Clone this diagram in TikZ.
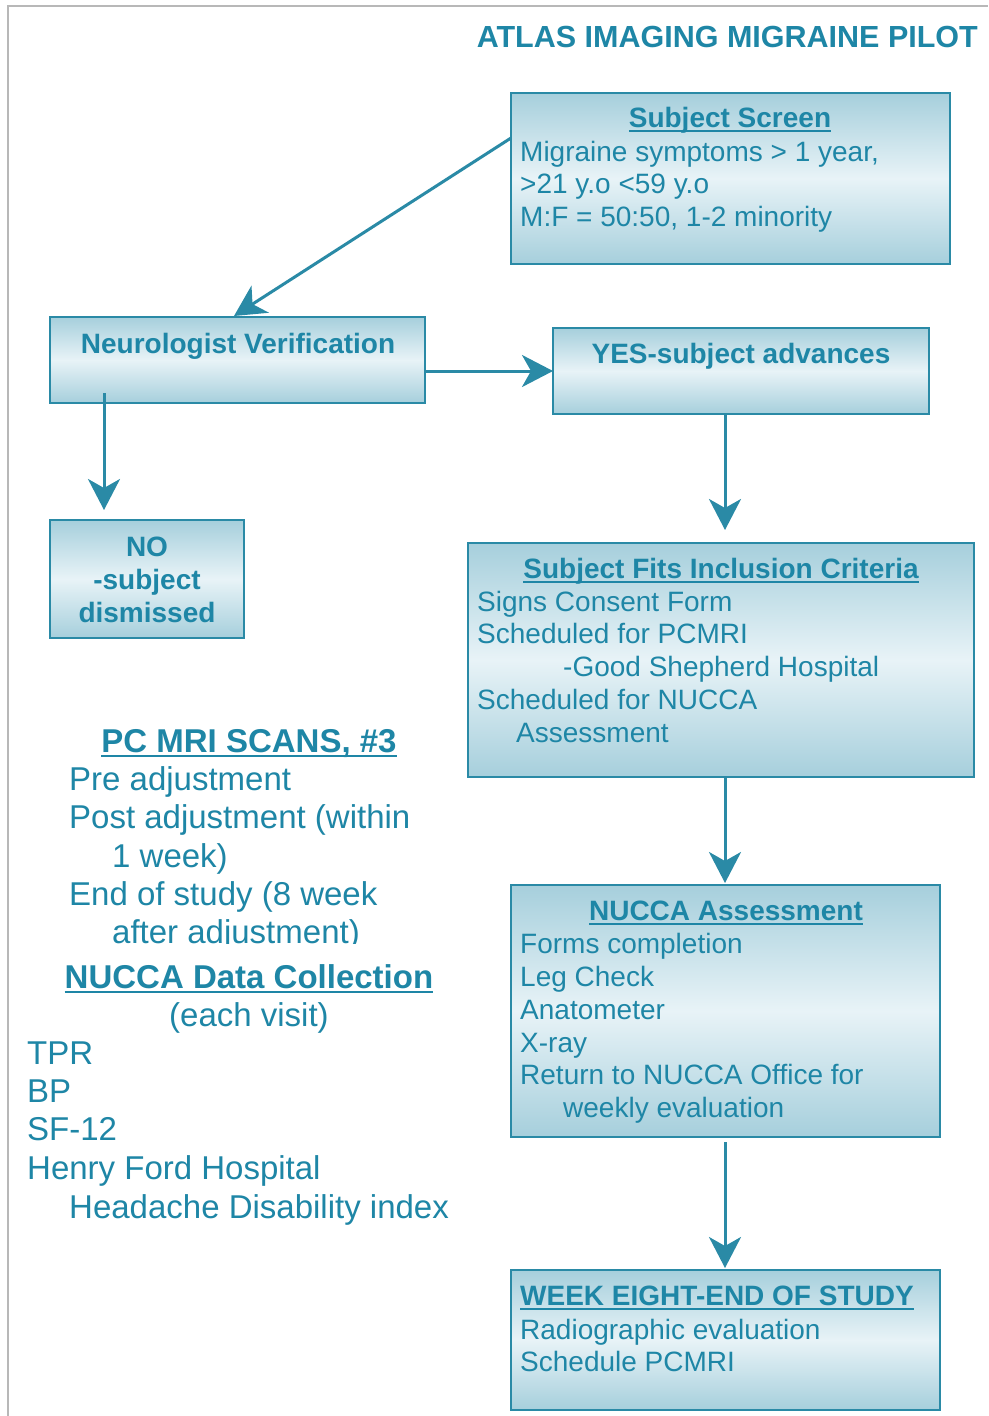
\documentclass[tikz,border=0pt]{standalone}
\usepackage{fontspec}
\setmainfont{Liberation Sans}
\usetikzlibrary{arrows.meta,calc}
\definecolor{tc}{HTML}{1E86A6}
\definecolor{bc}{HTML}{2A8AA6}
\definecolor{shd}{HTML}{A6CFDC}
\definecolor{shl}{HTML}{E8F3F7}
\definecolor{frm}{HTML}{B8B8B8}
\newcommand{\myul}[1]{\setbox0=\hbox{#1}\rlap{\rule[-5pt]{\wd0}{2.5pt}}\box0}
\begin{document}
\begin{tikzpicture}[x=1pt,y=-1pt,
  box/.style={draw=bc, line width=2pt, top color=shd, bottom color=shd, middle color=shl,
    anchor=north west, inner sep=0pt, outer sep=0pt},
  bt/.style={font=\fontsize{28}{33}\selectfont, text=tc, inner sep=0pt, anchor=base west},
  bb/.style={font=\fontsize{28}{33}\selectfont\bfseries, text=tc, inner sep=0pt, anchor=base},
  lt/.style={font=\fontsize{33}{38}\selectfont, text=tc, inner sep=0pt, anchor=base west},
  lb/.style={font=\fontsize{33}{38}\selectfont\bfseries, text=tc, inner sep=0pt, anchor=base},
  arr/.style={draw=bc, line width=3pt, -{Stealth[length=31pt, width=32pt, inset=9pt]}}
]
\useasboundingbox (0,0) rectangle (988,1416);
\fill[white] (0,0) rectangle (988,1416);
\draw[frm, line width=2pt] (8,1416) -- (8,6) -- (988,6);

% title
\node[font=\fontsize{30.5}{36}\selectfont\bfseries, text=tc, inner sep=0pt, anchor=base east] (title) at (978,47) {ATLAS IMAGING MIGRAINE PILOT};

% boxes
\node[box, minimum width=439pt, minimum height=171pt] (ss) at (511,93) {};
\node[box, minimum width=375pt, minimum height=86pt] (neuro) at (50,317) {};
\node[box, minimum width=376pt, minimum height=86pt] (yes) at (553,328) {};
\node[box, minimum width=194pt, minimum height=118pt] (no) at (50,520) {};
\node[box, minimum width=506pt, minimum height=234pt] (incl) at (468,543) {};
\node[box, minimum width=429pt, minimum height=252pt] (nucca) at (511,885) {};
\node[box, minimum width=429pt, minimum height=140pt] (week) at (511,1270) {};

% Subject screen text
\node[bb] (ss0) at (730,127) {\myul{Subject Screen}};
\node[bt] (ss1) at (520,161) {Migraine symptoms > 1 year,};
\node[bt] (ss2) at (520,193) {>21 y.o <59 y.o};
\node[bt] (ss3) at (520,226) {M:F = 50:50, 1-2 minority};

\node[bb] (nv) at (238,353) {Neurologist Verification};
\node[bb] (ya) at (741,363) {YES-subject advances};
\node[bb] (no1) at (147,556) {NO};
\node[bb] (no2) at (147,589) {-subject};
\node[bb] (no3) at (147,622) {dismissed};

% inclusion
\node[bb] (in0) at (721,578) {\myul{Subject Fits Inclusion Criteria}};
\node[bt] (in1) at (477,611) {Signs Consent Form};
\node[bt] (in2) at (477,643) {Scheduled for PCMRI};
\node[bt] (in3) at (563,676) {-Good Shepherd Hospital};
\node[bt] (in4) at (477,709) {Scheduled for NUCCA};
\node[bt] (in5) at (516,742) {Assessment};

% nucca
\node[bb] (nu0) at (726,920) {\myul{NUCCA Assessment}};
\node[bt] (nu1) at (520,953) {Forms completion};
\node[bt] (nu2) at (520,986) {Leg Check};
\node[bt] (nu3) at (520,1019) {Anatometer};
\node[bt] (nu4) at (520,1052) {X-ray};
\node[bt] (nu5) at (520,1084) {Return to NUCCA Office for};
\node[bt] (nu6) at (563,1117) {weekly evaluation};

% week eight
\node[bb, anchor=base west] (we0) at (520,1305) {\myul{WEEK EIGHT-END OF STUDY}};
\node[bt] (we1) at (520,1339) {Radiographic evaluation};
\node[bt] (we2) at (520,1371) {Schedule PCMRI};

% left text
\node[lb] (pc0) at (249,752) {\myul{PC MRI SCANS, \#3}};
\node[lt] (pc1) at (69,790) {Pre adjustment};
\node[lt] (pc2) at (69,828) {Post adjustment (within};
\node[lt] (pc3) at (112,867) {1 week)};
\node[lt] (pc4) at (69,905) {End of study (8 week};
\begin{scope}
\clip (0,900) rectangle (988,943);
\node[lt] (pc5) at (112,943) {after adjustment)};
\end{scope}
\node[lb] (nd0) at (249,988) {\myul{NUCCA Data Collection}};
\node[lt, anchor=base] (nd1) at (249,1026) {(each visit)};
\node[lt] (nd2) at (27,1064) {TPR};
\node[lt] (nd3) at (27,1102) {BP};
\node[lt] (nd4) at (27,1140) {SF-12};
\node[lt] (nd5) at (27,1179) {Henry Ford Hospital};
\node[lt] (nd6) at (69,1218) {Headache Disability index};

% connectors
\draw[arr] ($(ss.north west)+(0,45)$) -- ($(neuro.north west)+(184,-1)$);
\draw[arr] ($(neuro.north east)+(0,54)$) -- ($(yes.north west)+(0,43)$);
\draw[arr, shorten >=10pt] ($(neuro.south west)+(54,-10)$) -- ($(no.north west)+(54,0)$);
\draw[arr, shorten >=13pt] (yes.south -| 725,0) -- (incl.north -| 725,0);
\draw[arr, shorten >=2pt] (incl.south -| 725,0) -- (nucca.north -| 725,0);
\draw[arr, shorten <=5pt, shorten >=2pt] (nucca.south -| 725,0) -- (week.north -| 725,0);
\end{tikzpicture}
\end{document}
